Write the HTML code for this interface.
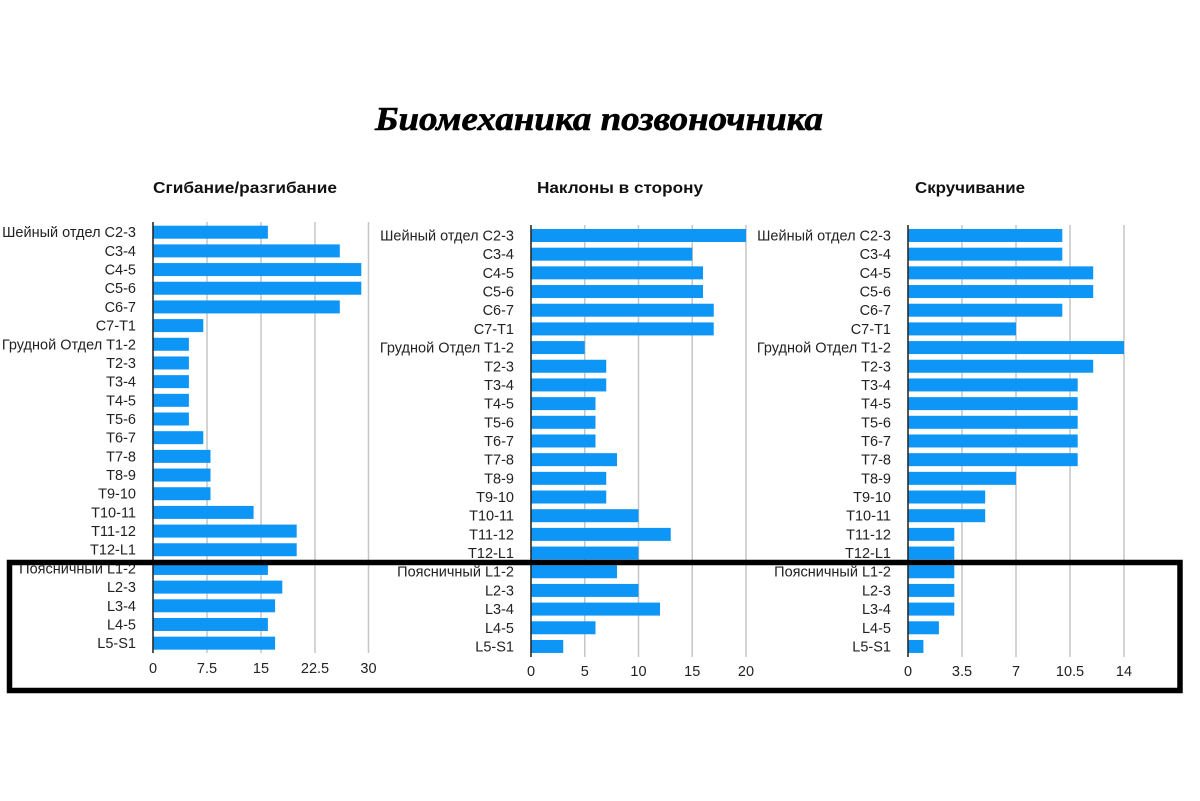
<!DOCTYPE html>
<html><head><meta charset="utf-8"><style>
html,body{margin:0;padding:0;background:#fff;width:1200px;height:801px;overflow:hidden}
svg{display:block}
.lb{font-family:"Liberation Sans",Arial,sans-serif;font-size:14.5px;fill:#222;text-anchor:end}
.tk{font-family:"Liberation Sans",Arial,sans-serif;font-size:14.5px;fill:#222;text-anchor:middle}
.ct{font-family:"Liberation Sans",Arial,sans-serif;font-size:16px;font-weight:bold;fill:#111}
.bar rect{fill:#0e96f7}
.gr line{stroke:#c6c6c6;stroke-width:1.5}
</style></head><body>
<svg width="1200" height="801" viewBox="0 0 1200 801" xmlns="http://www.w3.org/2000/svg">
<text x="375" y="130" font-family="Liberation Serif, serif" font-style="italic" font-weight="bold" font-size="34" fill="#000" stroke="#000" stroke-width="0.6" textLength="448" lengthAdjust="spacingAndGlyphs">Биомеханика позвоночника</text>

<text class="ct" x="153" y="193" textLength="184" lengthAdjust="spacingAndGlyphs">Сгибание/разгибание</text>
<text class="ct" x="537" y="193" textLength="166" lengthAdjust="spacingAndGlyphs">Наклоны в сторону</text>
<text class="ct" x="915" y="193" textLength="110" lengthAdjust="spacingAndGlyphs">Скручивание</text>

<!-- Chart 1 -->
<g class="gr"><line x1="207" y1="222" x2="207" y2="653"/><line x1="261" y1="222" x2="261" y2="653"/><line x1="315" y1="222" x2="315" y2="653"/><line x1="368.5" y1="222" x2="368.5" y2="653"/></g>
<g transform="translate(153,225.7)">
<g class="bar">
<rect x="0" y="0" width="114.9" height="13"/>
<rect x="0" y="18.68" width="186.8" height="13"/>
<rect x="0" y="37.36" width="208.3" height="13"/>
<rect x="0" y="56.04" width="208.3" height="13"/>
<rect x="0" y="74.72" width="186.8" height="13"/>
<rect x="0" y="93.4" width="50.3" height="13"/>
<rect x="0" y="112.08" width="35.9" height="13"/>
<rect x="0" y="130.76" width="35.9" height="13"/>
<rect x="0" y="149.44" width="35.9" height="13"/>
<rect x="0" y="168.12" width="35.9" height="13"/>
<rect x="0" y="186.8" width="35.9" height="13"/>
<rect x="0" y="205.48" width="50.3" height="13"/>
<rect x="0" y="224.16" width="57.5" height="13"/>
<rect x="0" y="242.84" width="57.5" height="13"/>
<rect x="0" y="261.52" width="57.5" height="13"/>
<rect x="0" y="280.2" width="100.6" height="13"/>
<rect x="0" y="298.88" width="143.7" height="13"/>
<rect x="0" y="317.56" width="143.7" height="13"/>
<rect x="0" y="336.24" width="114.9" height="13"/>
<rect x="0" y="354.92" width="129.3" height="13"/>
<rect x="0" y="373.6" width="122.1" height="13"/>
<rect x="0" y="392.28" width="114.9" height="13"/>
<rect x="0" y="410.96" width="122.1" height="13"/>
</g>
<text class="lb" x="-17" y="11.5">Шейный отдел C2-3</text>
<text class="lb" x="-17" y="30.18">C3-4</text>
<text class="lb" x="-17" y="48.86">C4-5</text>
<text class="lb" x="-17" y="67.54">C5-6</text>
<text class="lb" x="-17" y="86.22">C6-7</text>
<text class="lb" x="-17" y="104.9">C7-T1</text>
<text class="lb" x="-17" y="123.58">Грудной Отдел T1-2</text>
<text class="lb" x="-17" y="142.26">T2-3</text>
<text class="lb" x="-17" y="160.94">T3-4</text>
<text class="lb" x="-17" y="179.62">T4-5</text>
<text class="lb" x="-17" y="198.3">T5-6</text>
<text class="lb" x="-17" y="216.98">T6-7</text>
<text class="lb" x="-17" y="235.66">T7-8</text>
<text class="lb" x="-17" y="254.34">T8-9</text>
<text class="lb" x="-17" y="273.02">T9-10</text>
<text class="lb" x="-17" y="291.7">T10-11</text>
<text class="lb" x="-17" y="310.38">T11-12</text>
<text class="lb" x="-17" y="329.06">T12-L1</text>
<text class="lb" x="-17" y="347.74">Поясничный L1-2</text>
<text class="lb" x="-17" y="366.42">L2-3</text>
<text class="lb" x="-17" y="385.1">L3-4</text>
<text class="lb" x="-17" y="403.78">L4-5</text>
<text class="lb" x="-17" y="422.46">L5-S1</text>
</g>
<line x1="153" y1="222" x2="153" y2="653" stroke="#2a2a2a" stroke-width="1.6"/>
<text class="tk" x="153" y="673">0</text>
<text class="tk" x="207" y="673">7.5</text>
<text class="tk" x="261" y="673">15</text>
<text class="tk" x="315" y="673">22.5</text>
<text class="tk" x="368.5" y="673">30</text>

<!-- Chart 2 -->
<g class="gr"><line x1="584.75" y1="225" x2="584.75" y2="657"/><line x1="638.5" y1="225" x2="638.5" y2="657"/><line x1="692.25" y1="225" x2="692.25" y2="657"/><line x1="746" y1="225" x2="746" y2="657"/></g>
<g transform="translate(531,229)">
<g class="bar">
<rect x="0" y="0" width="215" height="13"/>
<rect x="0" y="18.68" width="161.25" height="13"/>
<rect x="0" y="37.36" width="172" height="13"/>
<rect x="0" y="56.04" width="172" height="13"/>
<rect x="0" y="74.72" width="182.75" height="13"/>
<rect x="0" y="93.4" width="182.75" height="13"/>
<rect x="0" y="112.08" width="53.75" height="13"/>
<rect x="0" y="130.76" width="75.25" height="13"/>
<rect x="0" y="149.44" width="75.25" height="13"/>
<rect x="0" y="168.12" width="64.5" height="13"/>
<rect x="0" y="186.8" width="64.5" height="13"/>
<rect x="0" y="205.48" width="64.5" height="13"/>
<rect x="0" y="224.16" width="86" height="13"/>
<rect x="0" y="242.84" width="75.25" height="13"/>
<rect x="0" y="261.52" width="75.25" height="13"/>
<rect x="0" y="280.2" width="107.5" height="13"/>
<rect x="0" y="298.88" width="139.75" height="13"/>
<rect x="0" y="317.56" width="107.5" height="13"/>
<rect x="0" y="336.24" width="86" height="13"/>
<rect x="0" y="354.92" width="107.5" height="13"/>
<rect x="0" y="373.6" width="129" height="13"/>
<rect x="0" y="392.28" width="64.5" height="13"/>
<rect x="0" y="410.96" width="32.25" height="13"/>
</g>
<text class="lb" x="-17" y="11.5">Шейный отдел C2-3</text>
<text class="lb" x="-17" y="30.18">C3-4</text>
<text class="lb" x="-17" y="48.86">C4-5</text>
<text class="lb" x="-17" y="67.54">C5-6</text>
<text class="lb" x="-17" y="86.22">C6-7</text>
<text class="lb" x="-17" y="104.9">C7-T1</text>
<text class="lb" x="-17" y="123.58">Грудной Отдел T1-2</text>
<text class="lb" x="-17" y="142.26">T2-3</text>
<text class="lb" x="-17" y="160.94">T3-4</text>
<text class="lb" x="-17" y="179.62">T4-5</text>
<text class="lb" x="-17" y="198.3">T5-6</text>
<text class="lb" x="-17" y="216.98">T6-7</text>
<text class="lb" x="-17" y="235.66">T7-8</text>
<text class="lb" x="-17" y="254.34">T8-9</text>
<text class="lb" x="-17" y="273.02">T9-10</text>
<text class="lb" x="-17" y="291.7">T10-11</text>
<text class="lb" x="-17" y="310.38">T11-12</text>
<text class="lb" x="-17" y="329.06">T12-L1</text>
<text class="lb" x="-17" y="347.74">Поясничный L1-2</text>
<text class="lb" x="-17" y="366.42">L2-3</text>
<text class="lb" x="-17" y="385.1">L3-4</text>
<text class="lb" x="-17" y="403.78">L4-5</text>
<text class="lb" x="-17" y="422.46">L5-S1</text>
</g>
<line x1="531" y1="225" x2="531" y2="657" stroke="#2a2a2a" stroke-width="1.6"/>
<text class="tk" x="531" y="676">0</text>
<text class="tk" x="584.75" y="676">5</text>
<text class="tk" x="638.5" y="676">10</text>
<text class="tk" x="692.25" y="676">15</text>
<text class="tk" x="746" y="676">20</text>

<!-- Chart 3 -->
<g class="gr"><line x1="962" y1="225" x2="962" y2="657"/><line x1="1016" y1="225" x2="1016" y2="657"/><line x1="1070" y1="225" x2="1070" y2="657"/><line x1="1124" y1="225" x2="1124" y2="657"/></g>
<g transform="translate(908,229)">
<g class="bar">
<rect x="0" y="0" width="154.3" height="13"/>
<rect x="0" y="18.68" width="154.3" height="13"/>
<rect x="0" y="37.36" width="185.2" height="13"/>
<rect x="0" y="56.04" width="185.2" height="13"/>
<rect x="0" y="74.72" width="154.3" height="13"/>
<rect x="0" y="93.4" width="108" height="13"/>
<rect x="0" y="112.08" width="216" height="13"/>
<rect x="0" y="130.76" width="185.2" height="13"/>
<rect x="0" y="149.44" width="169.7" height="13"/>
<rect x="0" y="168.12" width="169.7" height="13"/>
<rect x="0" y="186.8" width="169.7" height="13"/>
<rect x="0" y="205.48" width="169.7" height="13"/>
<rect x="0" y="224.16" width="169.7" height="13"/>
<rect x="0" y="242.84" width="108" height="13"/>
<rect x="0" y="261.52" width="77.2" height="13"/>
<rect x="0" y="280.2" width="77.2" height="13"/>
<rect x="0" y="298.88" width="46.3" height="13"/>
<rect x="0" y="317.56" width="46.3" height="13"/>
<rect x="0" y="336.24" width="46.3" height="13"/>
<rect x="0" y="354.92" width="46.3" height="13"/>
<rect x="0" y="373.6" width="46.3" height="13"/>
<rect x="0" y="392.28" width="30.9" height="13"/>
<rect x="0" y="410.96" width="15.4" height="13"/>
</g>
<text class="lb" x="-17" y="11.5">Шейный отдел C2-3</text>
<text class="lb" x="-17" y="30.18">C3-4</text>
<text class="lb" x="-17" y="48.86">C4-5</text>
<text class="lb" x="-17" y="67.54">C5-6</text>
<text class="lb" x="-17" y="86.22">C6-7</text>
<text class="lb" x="-17" y="104.9">C7-T1</text>
<text class="lb" x="-17" y="123.58">Грудной Отдел T1-2</text>
<text class="lb" x="-17" y="142.26">T2-3</text>
<text class="lb" x="-17" y="160.94">T3-4</text>
<text class="lb" x="-17" y="179.62">T4-5</text>
<text class="lb" x="-17" y="198.3">T5-6</text>
<text class="lb" x="-17" y="216.98">T6-7</text>
<text class="lb" x="-17" y="235.66">T7-8</text>
<text class="lb" x="-17" y="254.34">T8-9</text>
<text class="lb" x="-17" y="273.02">T9-10</text>
<text class="lb" x="-17" y="291.7">T10-11</text>
<text class="lb" x="-17" y="310.38">T11-12</text>
<text class="lb" x="-17" y="329.06">T12-L1</text>
<text class="lb" x="-17" y="347.74">Поясничный L1-2</text>
<text class="lb" x="-17" y="366.42">L2-3</text>
<text class="lb" x="-17" y="385.1">L3-4</text>
<text class="lb" x="-17" y="403.78">L4-5</text>
<text class="lb" x="-17" y="422.46">L5-S1</text>
</g>
<line x1="908" y1="225" x2="908" y2="657" stroke="#2a2a2a" stroke-width="1.6"/>
<text class="tk" x="908" y="676">0</text>
<text class="tk" x="962" y="676">3.5</text>
<text class="tk" x="1016" y="676">7</text>
<text class="tk" x="1070" y="676">10.5</text>
<text class="tk" x="1124" y="676">14</text>

<!-- highlight box -->
<rect x="9.5" y="562.5" width="1170.5" height="128" fill="none" stroke="#000" stroke-width="5.5"/>
</svg>
</body></html>
